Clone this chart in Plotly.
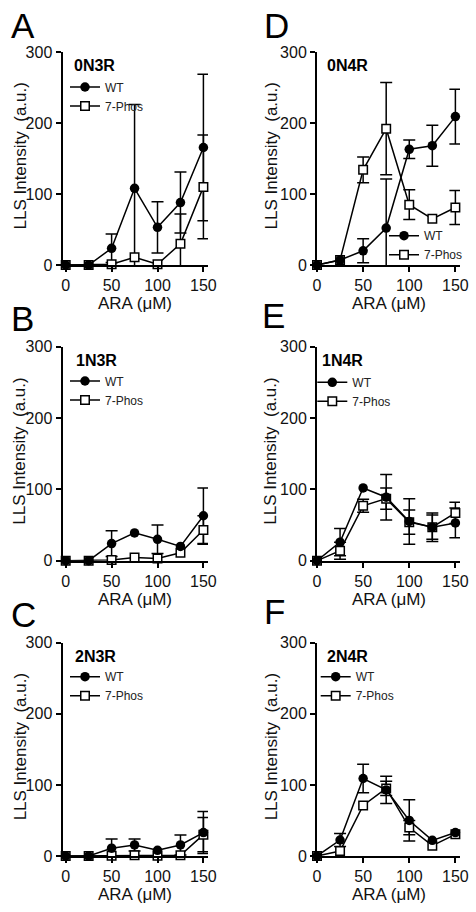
import plotly.graph_objects as go

# ---------------- data ----------------
x_ara = [0, 25, 50, 75, 100, 125, 150]
x_ticks = [0, 50, 100, 150]
y_ticks = [0, 100, 200, 300]
series_names = ["WT", "7-Phos"]
panel_letters = ["A", "D", "B", "E", "C", "F"]
panel_titles = ["0N3R", "0N4R", "1N3R", "1N4R", "2N3R", "2N4R"]

# 0N3R (A)
wt_0N3R = [0, 0, 23.5, 108, 53, 88, 165.5]
wt_0N3R_err = [None, None, 20, 118, 36, 43, 103]
ph_0N3R = [0, 0, 1, 11, 1, 30, 110]
ph_0N3R_err = [None, None, None, None, None, 42, 73]

# 0N4R (D)
wt_0N4R = [0, 7, 20, 52, 163, 168, 209]
wt_0N4R_err = [None, None, 17, 69, 13, 29, 38.5]
ph_0N4R = [0, 7, 134, 192, 85, 65, 81]
ph_0N4R_err = [None, None, 18, 65, 21, None, 24]

# 1N3R (B)
wt_1N3R = [0, 0, 24, 39, 30, 20, 63]
wt_1N3R_err = [None, None, 18, None, 20, None, 39]
ph_1N3R = [0, 0, 1, 4.5, 3, 11, 43]
ph_1N3R_err = [None, None, None, None, None, None, 20]

# 1N4R (E)
wt_1N4R = [0, 26, 102, 89, 55, 47, 53]
wt_1N4R_err = [None, 19, None, 32, 32, 20, 21]
ph_1N4R = [0, 14, 77, 87, 54, 47, 67]
ph_1N4R_err = [None, 12, 9, 15, 17, 17, 15]

# 2N3R (C)
wt_2N3R = [0, 0, 11, 15.5, 8, 15.5, 33]
wt_2N3R_err = [None, None, 13, 8.5, None, 14, 29.5]
ph_2N3R = [0, 0, 0.5, 1, 0.5, 1, 30]
ph_2N3R_err = [None, None, None, None, None, None, 24]

# 2N4R (F)
wt_2N4R = [0, 22.5, 109, 93, 50, 22, 33]
wt_2N4R_err = [None, 9, 20, 19, 29, None, None]
ph_2N4R = [0, 7, 71, 95, 40, 14.5, 30.5]
ph_2N4R_err = [None, None, None, 10, 10, None, None]

panels = [
    (wt_0N3R, wt_0N3R_err, ph_0N3R, ph_0N3R_err),
    (wt_0N4R, wt_0N4R_err, ph_0N4R, ph_0N4R_err),
    (wt_1N3R, wt_1N3R_err, ph_1N3R, ph_1N3R_err),
    (wt_1N4R, wt_1N4R_err, ph_1N4R, ph_1N4R_err),
    (wt_2N3R, wt_2N3R_err, ph_2N3R, ph_2N3R_err),
    (wt_2N4R, wt_2N4R_err, ph_2N4R, ph_2N4R_err),
]

# ---------------- layout geometry (pixels) ----------------
W, H = 476, 912
FONT = "Arial, 'Liberation Sans', sans-serif"
col_dom = [(62.5, 208.0), (317.0, 460.0)]
col_rng = [[-3.5, 155], [0, 155]]
row_dom = [(52.0, 265.0), (346.7, 560.7), (642.7, 856.0)]
letter_pos = [(9, 25.5), (262, 25.5), (9, 318.5), (260, 315.5), (9, 614), (262, 611.5)]
title_pos = [(72, 65), (325, 65), (74, 361), (320, 361), (73, 656), (325, 656)]
legend_marker = [(85, 87), (404, 235.7), (85, 381), (332.3, 382.3), (85, 676.7), (335.7, 676.7)]
ytitle_x = [20, 271]


def fx(px):
    return px / W


def fy(py):
    return 1 - py / H


fig = go.Figure()
layout = dict(
    width=W, height=H, margin=dict(l=0, r=0, t=0, b=0, pad=0, autoexpand=False),
    paper_bgcolor="white", plot_bgcolor="white",
    font=dict(family=FONT, color="#111"),
    annotations=[],
)

for i, (wt, wt_err, ph, ph_err) in enumerate(panels):
    n = i + 1
    col, row = i % 2, i // 2
    xa = "x" if n == 1 else f"x{n}"
    ya = "y" if n == 1 else f"y{n}"
    leg = "legend" if n == 1 else f"legend{n}"

    # error bars (clipped to the plot area)
    for yv, ev in ((ph, ph_err), (wt, wt_err)):
        idx = [k for k, e in enumerate(ev) if e is not None]
        fig.add_trace(go.Scatter(
            x=[x_ara[k] for k in idx], y=[yv[k] for k in idx],
            mode="markers", marker=dict(size=2, opacity=0),
            error_y=dict(type="data", array=[ev[k] for k in idx], symmetric=True,
                         color="black", thickness=1.5, width=6),
            cliponaxis=True, showlegend=False, hoverinfo="skip",
            xaxis=xa, yaxis=ya))

    # lines + markers
    fig.add_trace(go.Scatter(
        x=x_ara, y=ph, mode="lines+markers", name=series_names[1],
        line=dict(color="black", width=1.5),
        marker=dict(symbol="square", size=8.5, color="white",
                    line=dict(color="black", width=1.5)),
        cliponaxis=False, legend=leg, xaxis=xa, yaxis=ya))
    fig.add_trace(go.Scatter(
        x=x_ara, y=wt, mode="lines+markers", name=series_names[0],
        line=dict(color="black", width=1.5),
        marker=dict(symbol="circle", size=9.5, color="black",
                    line=dict(color="black", width=0)),
        cliponaxis=False, legend=leg, xaxis=xa, yaxis=ya))

    axis_common = dict(
        showline=True, linecolor="black", linewidth=2,
        ticks="outside", ticklen=5, tickwidth=2, tickcolor="black",
        showgrid=False, zeroline=False, automargin=False,
        tickfont=dict(family=FONT, size=16, color="#111"),
        fixedrange=True,
    )
    c0, c1 = col_dom[col]
    r0, r1 = row_dom[row]
    layout["xaxis" if n == 1 else f"xaxis{n}"] = dict(
        axis_common, domain=[fx(c0), fx(c1)], range=col_rng[col],
        tickvals=x_ticks, anchor=ya)
    layout["yaxis" if n == 1 else f"yaxis{n}"] = dict(
        axis_common, domain=[fy(r1), fy(r0)], range=[0, 300],
        tickvals=y_ticks, anchor=xa)

    mx, my = legend_marker[i]
    layout[leg] = dict(
        x=fx(mx - 20), y=fy(my - 14.5), xanchor="left", yanchor="top",
        bgcolor="rgba(0,0,0,0)", borderwidth=0, traceorder="reversed",
        tracegroupgap=0, font=dict(family=FONT, size=12, color="#222"))

    ann = layout["annotations"]
    lx, ly = letter_pos[i]
    ann.append(dict(text=panel_letters[i], x=fx(lx), y=fy(ly), xref="paper", yref="paper",
                    xanchor="left", yanchor="middle", showarrow=False,
                    font=dict(family=FONT, size=35, color="black")))
    tx, ty = title_pos[i]
    ann.append(dict(text=f"<b>{panel_titles[i]}</b>", x=fx(tx), y=fy(ty), xref="paper",
                    yref="paper", xanchor="left", yanchor="middle", showarrow=False,
                    font=dict(family=FONT, size=16, color="black")))
    ann.append(dict(text="LLS Intensity\u00a0 (a.u.)", x=fx(ytitle_x[col]), y=fy((r0 + r1) / 2 - 2),
                    xref="paper", yref="paper", xanchor="center", yanchor="middle",
                    textangle=-90, showarrow=False,
                    font=dict(family=FONT, size=17, color="#111")))
    ann.append(dict(text="ARA (\u03bcM)", x=fx((c0 + c1) / 2), y=fy(r1 + 38.5),
                    xref="paper", yref="paper", xanchor="center", yanchor="middle",
                    showarrow=False, font=dict(family=FONT, size=17, color="#111")))

fig.update_layout(**layout)
fig.write_html(
    "out.html",
    config={"displayModeBar": False},
    post_script="document.body.style.margin='0';document.body.style.overflow='hidden';",
)
